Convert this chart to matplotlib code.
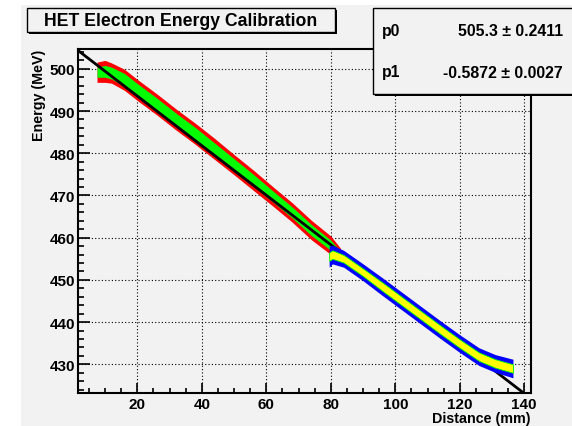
import matplotlib
matplotlib.use('Agg')
import matplotlib.pyplot as plt
from matplotlib.patches import Rectangle
from matplotlib.ticker import MultipleLocator

plt.rcParams['font.family'] = ['Liberation Sans', 'DejaVu Sans']
plt.rcParams['font.weight'] = 'bold'

# fit parameters
p0, p0_err = 505.3, 0.2411
p1, p1_err = -0.5872, 0.0027

# first run (red / green boxes): distance (mm), band centre and half widths (MeV)
x_a = [7.5, 10, 12, 16, 20, 26, 32, 38, 44, 50, 56, 62, 68, 74, 80, 83]
y_a = [499.2, 499.4, 499.0, 497.4, 495.0, 491.6, 488.0, 484.6, 481.0, 477.3, 473.6, 469.8, 466.0, 461.8, 458.2, 456.5]
red_hw = [2.4, 2.6, 2.4, 2.5, 2.5, 2.5, 2.5, 2.5, 2.5, 2.4, 2.4, 2.3, 2.3, 2.3, 2.2, 1.0]
green_hw = [1.2, 1.4, 1.4, 1.5, 1.5, 1.5, 1.5, 1.5, 1.4, 1.4, 1.4, 1.3, 1.3, 1.3, 1.2, 0.3]

# second run (blue / yellow boxes)
x_b = [79.5, 80.5, 84, 90, 96, 102, 108, 114, 120, 126, 131, 136.5]
y_b = [455.5, 456.0, 455.0, 451.8, 448.4, 445.0, 441.6, 438.2, 434.9, 431.8, 430.2, 429.0]
blue_hw = [2.5, 2.2, 2.0, 2.0, 2.1, 2.1, 2.1, 2.1, 2.1, 2.1, 2.1, 2.2]
yellow_hw = [1.0, 1.0, 0.9, 0.9, 1.0, 1.0, 1.0, 1.0, 1.0, 1.0, 1.0, 1.0]

x_ticks = [20, 40, 60, 80, 100, 120, 140]
y_ticks = [430, 440, 450, 460, 470, 480, 490, 500]

bg = '#f2f2f2'
fig = plt.figure(figsize=(5.72, 4.27), dpi=100, facecolor='white')
fig.patches.append(Rectangle((21 / 572, 0), 1, 1 - 6 / 427, transform=fig.transFigure,
                             facecolor=bg, edgecolor='none', zorder=-5))

ax = fig.add_axes([78 / 572, 33 / 427, 453 / 572, 344 / 427])
ax.set_facecolor(bg)
ax.set_xlim(1.6, 142.1)
ax.set_ylim(423.2, 504.7)


def band(x, y, hw):
    lo = [c - h for c, h in zip(y, hw)]
    hi = [c + h for c, h in zip(y, hw)]
    return lo, hi


lo, hi = band(x_a, y_a, red_hw)
ax.fill_between(x_a, lo, hi, color='#ff0000', lw=0, zorder=2)
lo, hi = band(x_a, y_a, green_hw)
ax.fill_between(x_a, lo, hi, color='#00ff00', lw=0, zorder=3)

xf = [1.6, 142.1]
ax.plot(xf, [p0 + p1 * v for v in xf], color='black', lw=2, zorder=4)

lo, hi = band(x_b, y_b, blue_hw)
ax.fill_between(x_b, lo, hi, color='#0000ff', lw=0, zorder=5)
lo, hi = band(x_b, y_b, yellow_hw)
ax.fill_between(x_b, lo, hi, color='#ffff00', edgecolor='#00ff00', lw=0.6, zorder=6)

ax.set_xticks(x_ticks)
ax.set_yticks(y_ticks)
ax.xaxis.set_minor_locator(MultipleLocator(5))
ax.yaxis.set_minor_locator(MultipleLocator(2))
ax.tick_params(axis='both', which='both', direction='in', labelsize=11, width=1.2)
ax.tick_params(axis='y', which='major', length=8.5, pad=2)
ax.tick_params(axis='y', which='minor', length=4.5)
ax.tick_params(axis='x', which='major', length=7, pad=3)
ax.tick_params(axis='x', which='minor', length=3.6)
for lab in ax.get_xticklabels() + ax.get_yticklabels():
    lab.set_fontweight('bold')
for s in ax.spines.values():
    s.set_linewidth(1.5)
ax.grid(True, which='major', color='black', linestyle=(0, (1, 2)), lw=0.8)
ax.set_axisbelow(True)

fig.text(39 / 572, 1 - 50 / 427, 'Energy (MeV)', rotation=90, ha='center', va='top',
         fontsize=10.3, fontweight='bold')
fig.text(531 / 572, 8 / 427, 'Distance (mm)', ha='right', va='center',
         fontsize=10.3, fontweight='bold')


def box(x0, y0, x1, y1):
    # pixel coords from top-left, with a ROOT style shadow
    W, H = 572, 427
    fig.patches.append(Rectangle(((x0 + 2) / W, 1 - (y1 + 2) / H), (x1 - x0) / W, (y1 - y0) / H,
                                 transform=fig.transFigure, facecolor='black', edgecolor='none', zorder=8))
    fig.patches.append(Rectangle((x0 / W, 1 - y1 / H), (x1 - x0) / W, (y1 - y0) / H,
                                 transform=fig.transFigure, facecolor=bg, edgecolor='black', lw=1, zorder=9))


box(26.5, 9, 335, 32.5)
fig.text(181 / 572, 1 - 21 / 427, 'HET Electron Energy Calibration', ha='center', va='center',
         fontsize=12.7, fontweight='bold', zorder=10)

box(372.5, 8.5, 600, 94.5)
fig.text(382 / 572, 1 - 31.5 / 427, 'p0', ha='left', va='center', fontsize=11.4, fontweight='bold', zorder=10)
fig.text(382 / 572, 1 - 73 / 427, 'p1', ha='left', va='center', fontsize=11.4, fontweight='bold', zorder=10)
fig.text(563 / 572, 1 - 31.5 / 427, f'{p0} \u00b1 {p0_err}', ha='right', va='center',
         fontsize=11.4, fontweight='bold', zorder=10)
fig.text(563 / 572, 1 - 73 / 427, f'{p1} \u00b1 {p1_err}', ha='right', va='center',
         fontsize=11.4, fontweight='bold', zorder=10)

fig.savefig('out.png', dpi=100, facecolor='white')
